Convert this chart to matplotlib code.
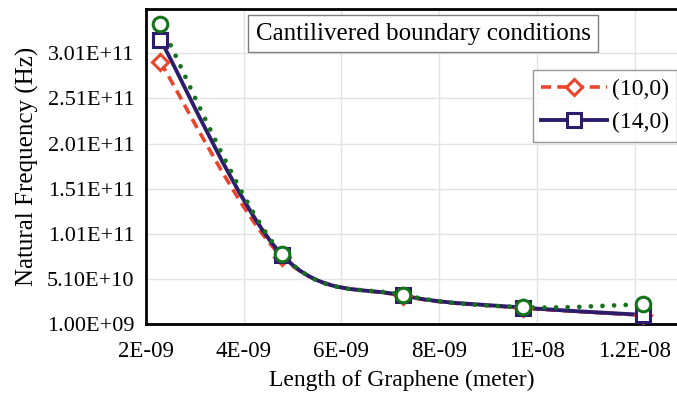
import matplotlib
matplotlib.use("Agg")
import matplotlib.pyplot as plt
import numpy as np
from matplotlib.path import Path
from matplotlib.patches import PathPatch
from matplotlib.lines import Line2D

# datos (longitud en metros, frecuencia en Hz)
length = [2.30e-09, 4.78e-09, 7.25e-09, 9.71e-09, 1.2175e-08]
freq_10_0 = [2.91e11, 7.6e10, 3.25e10, 1.90e10, 1.10e10]
freq_14_0 = [3.16e11, 7.8e10, 3.30e10, 1.95e10, 1.13e10]
freq_green = [3.33e11, 7.9e10, 3.36e10, 1.99e10, 2.32e10]

x_ticks = [2e-09, 4e-09, 6e-09, 8e-09, 1e-08, 1.2e-08]
x_tick_labels = ["2E-09", "4E-09", "6E-09", "8E-09", "1E-08", "1.2E-08"]
y_ticks = [1.0e09, 5.1e10, 1.01e11, 1.51e11, 2.01e11, 2.51e11, 3.01e11]
y_tick_labels = ["1.00E+09", "5.10E+10", "1.01E+11", "1.51E+11", "2.01E+11", "2.51E+11", "3.01E+11"]

RED = "#e8452c"
NAVY = "#2d1b6b"
GREEN = "#15731a"
RED_DASH = (0, (2.8, 1.7))
GREEN_DOTS = (0, (0.01, 2.45))

plt.rcParams["font.family"] = ["Liberation Serif", "DejaVu Serif"]


def smooth_path(xs, ys):
    """curva suavizada tipo Excel (bezier con puntos de control catmull-rom)"""
    pts = np.column_stack([xs, ys])
    n = len(pts)
    verts = [pts[0]]
    codes = [Path.MOVETO]
    for i in range(n - 1):
        p0 = pts[i - 1] if i > 0 else pts[i]
        p1 = pts[i]
        p2 = pts[i + 1]
        p3 = pts[i + 2] if i + 2 < n else pts[i + 1]
        c1 = p1 + (p2 - p0) / 6.0
        c2 = p2 - (p3 - p1) / 6.0
        verts += [c1, c2, p2]
        codes += [Path.CURVE4] * 3
    return Path(verts, codes)


fig = plt.figure(figsize=(6.77, 3.94), dpi=100)
ax = fig.add_axes([0.2153, 0.177, 0.7847, 0.80])

series = [
    (freq_10_0, RED, RED_DASH, 2.6, "D", 8, "butt"),
    (freq_14_0, NAVY, "-", 2.8, "s", 10, "round"),
    (freq_green, GREEN, GREEN_DOTS, 3.4, "o", 10.5, "round"),
]
for vals, color, ls, lw, marker, ms, cap in series:
    patch = PathPatch(smooth_path(length, vals), fill=False, edgecolor=color,
                      linewidth=lw, linestyle=ls, capstyle=cap, zorder=3)
    ax.add_patch(patch)
    ax.plot(length, vals, linestyle="none", marker=marker, markersize=ms,
            markerfacecolor="white", markeredgecolor=color, markeredgewidth=2.2,
            zorder=4)

ax.set_xlim(2e-09, 1.286e-08)
ax.set_ylim(1e09, 3.5e11)
ax.set_xticks(x_ticks)
ax.set_xticklabels(x_tick_labels)
ax.set_yticks(y_ticks)
ax.set_yticklabels(y_tick_labels)
ax.tick_params(axis="y", length=0, labelsize=16, pad=8)
ax.tick_params(axis="x", length=0, labelsize=16.5, pad=12)
ax.grid(True, color="#e3e3e3", linewidth=1.0)
ax.set_axisbelow(True)

ax.spines["right"].set_visible(False)
for s in ["left", "bottom", "top"]:
    ax.spines[s].set_linewidth(2.0)
    ax.spines[s].set_color("black")

ax.set_xlabel("Length of Graphene (meter)", fontsize=17, labelpad=6)
ax.xaxis.label.set_x(0.482)
ax.set_ylabel("Natural Frequency (Hz)", fontsize=18, labelpad=6)

ax.text(0.522, 0.922, "Cantilivered boundary conditions", transform=ax.transAxes,
        ha="center", va="center", fontsize=18,
        bbox=dict(boxstyle="square,pad=0.3", facecolor="white", edgecolor="#7f7f7f", linewidth=1.0))

handles = [
    Line2D([], [], color=RED, linestyle=RED_DASH, linewidth=2.6, marker="D",
           markersize=8, markerfacecolor="white", markeredgecolor=RED, markeredgewidth=2.2),
    Line2D([], [], color=NAVY, linestyle="-", linewidth=2.8, marker="s",
           markersize=10, markerfacecolor="white", markeredgecolor=NAVY, markeredgewidth=2.2),
]
leg = ax.legend(handles, ["(10,0)", "(14,0)"], loc="upper right", bbox_to_anchor=(1.0, 0.806),
                fontsize=17, frameon=True, fancybox=False, edgecolor="#7f7f7f",
                handlelength=2.8, borderaxespad=0.0, borderpad=0.35, labelspacing=0.5,
                handletextpad=0.2)
leg.get_frame().set_linewidth(1.0)

fig.savefig("out.png", dpi=100)
